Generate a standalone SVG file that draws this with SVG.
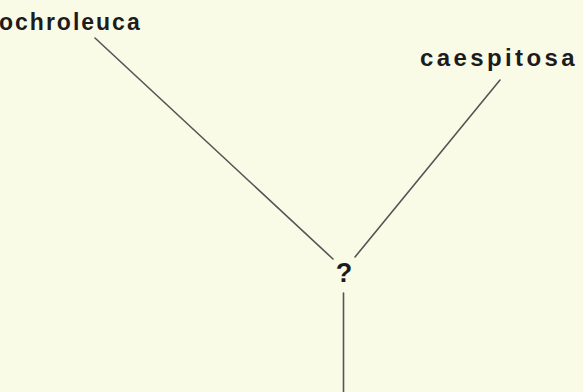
<svg xmlns="http://www.w3.org/2000/svg" width="583" height="392" viewBox="0 0 583 392">
<style>
.lbl{font-family:"Liberation Sans",Arial,sans-serif;font-weight:bold;fill:#1c1c1c}
.edge{stroke:#555;stroke-width:1.6;fill:none;stroke-linecap:round}
</style>
<rect width="583" height="392" fill="#fafbe7"/>
<g id="connectors">
<line class="edge" x1="95" y1="38" x2="333" y2="259"/>
<line class="edge" x1="500" y1="80" x2="355" y2="257"/>
<line class="edge" x1="343.5" y1="293" x2="343.5" y2="392"/>
</g>
<g id="node-ochroleuca"><text class="lbl" x="-1" y="30" font-size="23" letter-spacing="2">ochroleuca</text></g>
<g id="node-caespitosa"><text class="lbl" x="420" y="66" font-size="24" letter-spacing="3.4">caespitosa</text></g>
<g id="node-unknown"><text class="lbl" x="344" y="282" font-size="27" text-anchor="middle">?</text></g>
</svg>
